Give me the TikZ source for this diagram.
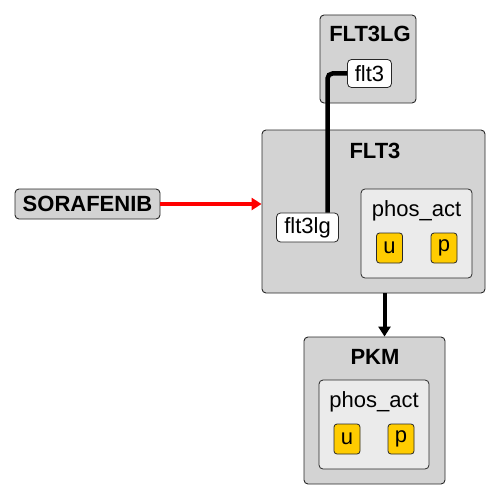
\documentclass[tikz,border=0pt]{standalone}
\usepackage{fontspec}
\setmainfont{Liberation Sans}
\usetikzlibrary{arrows.meta, positioning}
\definecolor{boxgray}{RGB}{211,211,211}
\definecolor{sitegray}{RGB}{235,235,235}
\definecolor{stategold}{RGB}{255,204,0}
\definecolor{edgegray}{RGB}{40,40,40}

\begin{document}
\begin{tikzpicture}[x=1pt, y=-1pt,
  every node/.style={font=\fontsize{22}{25}\selectfont, inner sep=0pt},
  agent/.style={draw=edgegray, fill=boxgray, rounded corners=4pt, line width=0.9pt},
  site/.style={draw=edgegray, fill=sitegray, rounded corners=4pt, line width=0.8pt},
  bsite/.style={draw=edgegray, fill=white, rounded corners=4pt, line width=0.8pt},
  state/.style={draw=edgegray, fill=stategold, rounded corners=3pt, line width=0.8pt,
                minimum width=26pt, minimum height=30pt},
  title/.style={font=\fontsize{22}{25}\selectfont\bfseries},
  bond/.style={line width=4.5pt, rounded corners=5pt},
  flow/.style={-{Triangle[length=10pt, width=12pt]}, line width=4pt}
]
\useasboundingbox (0,0) rectangle (502,500);
% FLT3LG agent
\node[agent, minimum width=96pt, minimum height=88pt] (lgbox) at (368,59) {};
\node[title] (lgname) at (370,34) {FLT3LG};
\node[bsite, minimum width=44pt, minimum height=28pt] (flt3) at (369.5,73.5) {flt3};
% FLT3 agent
\node[agent, minimum width=223pt, minimum height=163pt] (rbox) at (373.5,211.5) {};
\node[title] (rname) at (375,151) {FLT3};
\node[bsite, minimum width=62pt, minimum height=29pt] (flt3lg) at (307.5,227.5) {flt3lg};
\node[site, minimum width=111pt, minimum height=89pt] (rphos) at (416.5,233.5) {};
\node (rphoslab) at (416.5,211) {phos\_act};
\node[state] (ru) at (389.5,248) {u};
\node[state] (rp) at (444,248) {p};
% PKM agent
\node[agent, minimum width=141pt, minimum height=147pt] (pbox) at (374.5,410.5) {};
\node[title] (pname) at (375,357) {PKM};
\node[site, minimum width=110pt, minimum height=89pt] (pphos) at (374,424.5) {};
\node (pphoslab) at (374,402) {phos\_act};
\node[state] (pu) at (347,439) {u};
\node[state] (pp) at (401,439) {p};
% SORAFENIB drug
\node[agent, title, minimum width=145pt, minimum height=30pt] (drug) at (87.5,204) {SORAFENIB};
% edges
\draw[bond] (flt3.west) -| ([xshift=20pt]flt3lg.north);
\draw[flow, red] (drug.east) -- (drug.east -| rbox.west);
\draw[flow] ([xshift=11pt]rbox.south) -- ([xshift=11pt]rbox.south |- pbox.north);
\end{tikzpicture}
\end{document}
